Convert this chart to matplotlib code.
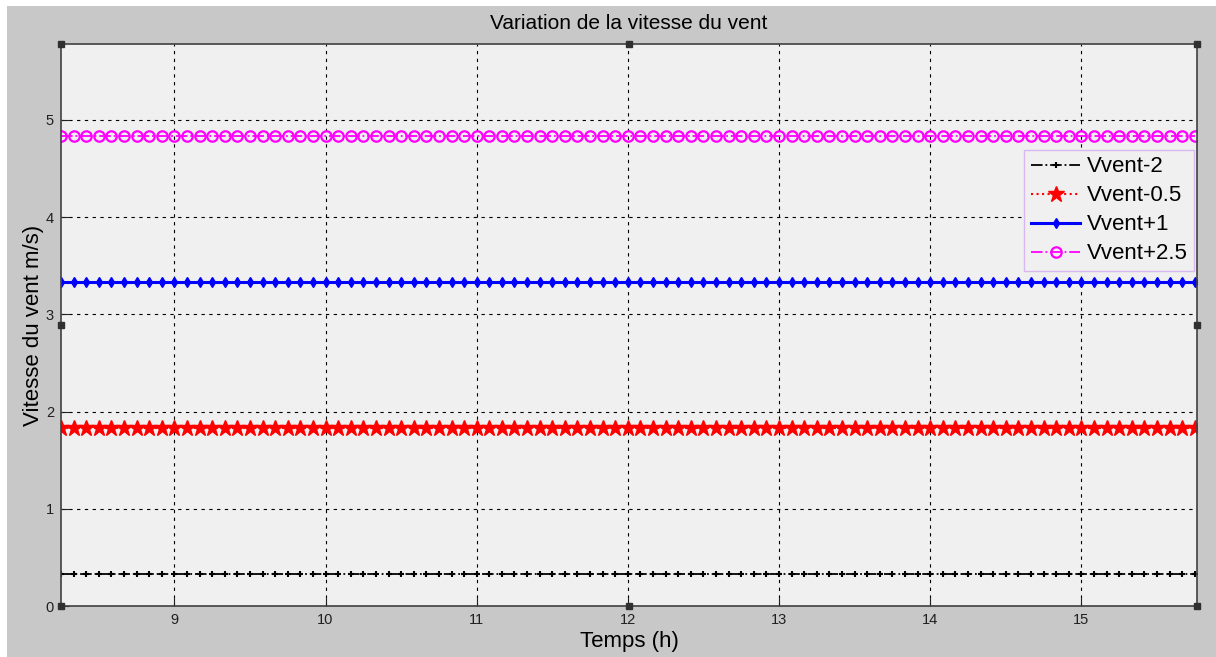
import numpy as np
import matplotlib.pyplot as plt
from matplotlib.patches import Rectangle

plt.rcParams['font.family'] = ['Liberation Sans', 'DejaVu Sans']

# temps (h), pas de 5 minutes
t = np.arange(8.25, 15.75 + 1e-9, 1.0 / 12)
# niveaux constants (m/s)
labels = ['Vvent-2', 'Vvent-0.5', 'Vvent+1', 'Vvent+2.5']
levels = [0.33, 1.83, 3.33, 4.83]
xticks = [9, 10, 11, 12, 13, 14, 15]
yticks = [0, 1, 2, 3, 4, 5]

styles = [
    dict(color='black', ls='-.', marker='+', ms=5, mew=1.5, lw=1.3),
    dict(color='red', ls=':', marker='*', ms=12, mew=1, lw=1.5),
    dict(color='blue', ls='-', marker='d', ms=5.5, mew=1, lw=2.2),
    dict(color='magenta', ls='-.', marker='o', ms=7.5, mew=1.6, lw=1.3, mfc='none'),
]

fig = plt.figure(figsize=(12.16, 6.57), dpi=100, facecolor='white')
fig.patches.append(Rectangle((7 / 1216, -1), 2, 2 - 6 / 657, transform=fig.transFigure,
                             facecolor='#c8c8c8', edgecolor='none', zorder=-10))
ax = fig.add_axes([61 / 1216, 1 - 606 / 657, (1197 - 61) / 1216, (606 - 44) / 657])
ax.set_facecolor('#f0f0f0')

for lab, lev, st in zip(labels, levels, styles):
    ax.plot(t, np.full(len(t), lev), label=lab, **st)

ax.set_xlim(8.25, 15.765)
ax.set_ylim(0, 5.78)
ax.set_xticks(xticks)
ax.set_yticks(yticks)
ax.tick_params(direction='in', length=6, labelsize=10.5, colors='#202020', pad=5)
ax.grid(True, color='black', ls=(0, (3, 4)), lw=0.8)
for s in ax.spines.values():
    s.set_color('#404040')
    s.set_linewidth(1.2)

ax.set_title('Variation de la vitesse du vent', fontsize=15, pad=11)
ax.set_xlabel('Temps (h)', fontsize=16, labelpad=3)
ax.set_ylabel('Vitesse du vent m/s)', fontsize=16, labelpad=1)

leg = ax.legend(loc='upper right', bbox_to_anchor=(0.9975, 0.812), fontsize=16,
                fancybox=False, framealpha=1, handlelength=2.2, handletextpad=0.3,
                borderpad=0.3, labelspacing=0.36, borderaxespad=0)
leg.get_frame().set_facecolor('#f0f0f0')
leg.get_frame().set_edgecolor('#d8b8f0')

# poignées de sélection
hx = [0, 0.5, 1, 0, 1, 0, 0.5, 1]
hy = [1, 1, 1, 0.5, 0.5, 0, 0, 0]
ax.plot(hx, hy, 's', color='#303030', ms=4.5, transform=ax.transAxes, clip_on=False, zorder=5)

plt.savefig('out.png', dpi=100, facecolor=fig.get_facecolor())
